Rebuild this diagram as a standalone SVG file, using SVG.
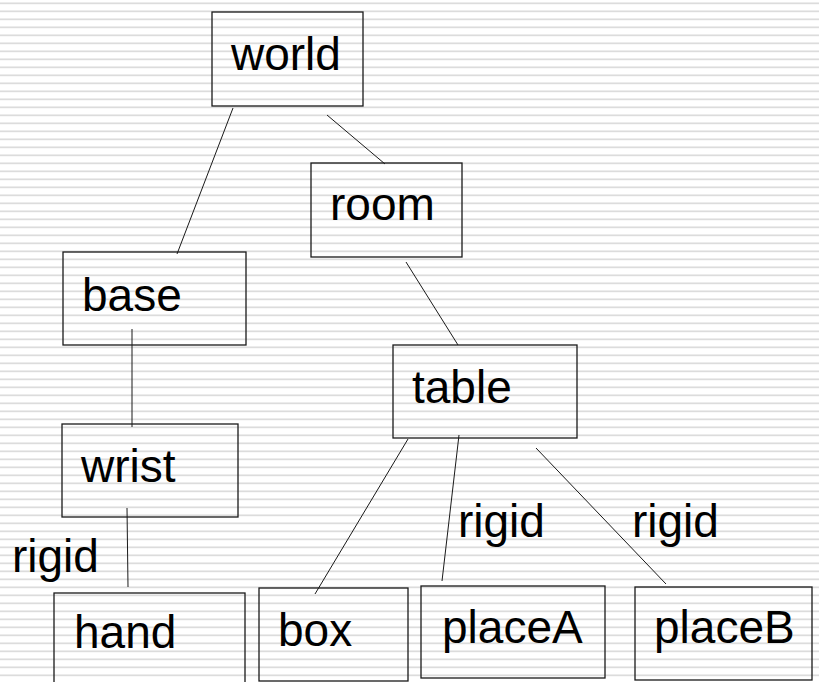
<svg xmlns="http://www.w3.org/2000/svg" width="819" height="682" viewBox="0 0 819 682">
<defs>
<pattern id="stripes" x="0" y="0" width="8" height="8" patternUnits="userSpaceOnUse">
<rect x="0" y="0" width="8" height="8" fill="#ffffff"/>
<rect x="0" y="2" width="8" height="1" fill="#ececec"/>
<rect x="0" y="3" width="8" height="1.2" fill="#dcdcdc"/>
</pattern>
<style>
.node rect { fill: none; stroke: #1a1a1a; stroke-width: 1.3; }
.label { font-family: "Liberation Sans", Arial, sans-serif; font-size: 46px; fill: #000; }
.edges line { stroke: #1a1a1a; stroke-width: 1; }
</style>
</defs>
<rect x="0" y="0" width="819" height="682" fill="url(#stripes)"/>
<g id="connectors" class="edges">
<line x1="233" y1="108" x2="177" y2="254"/>
<line x1="327" y1="115" x2="385" y2="164"/>
<line x1="406" y1="262" x2="458" y2="345"/>
<line x1="132" y1="329" x2="132" y2="427"/>
<line x1="127" y1="508" x2="128" y2="587"/>
<line x1="408" y1="439" x2="315" y2="594"/>
<line x1="459" y1="435" x2="442" y2="581"/>
<line x1="536" y1="448" x2="666" y2="584"/>
</g>
<g id="edge-labels">
<text class="label" x="12" y="572">rigid</text>
<text class="label" x="458" y="537">rigid</text>
<text class="label" x="632" y="537">rigid</text>
</g>
<g id="world" class="node"><rect x="212" y="12" width="151" height="94"/><text class="label" x="231" y="70">world</text></g>
<g id="room" class="node"><rect x="311" y="163" width="151" height="94"/><text class="label" x="330" y="220">room</text></g>
<g id="base" class="node"><rect x="63" y="252" width="183" height="93"/><text class="label" x="82" y="311">base</text></g>
<g id="table" class="node"><rect x="393" y="345" width="184" height="93"/><text class="label" x="412" y="403">table</text></g>
<g id="wrist" class="node"><rect x="62" y="424" width="176" height="93"/><text class="label" x="81" y="482">wrist</text></g>
<g id="hand" class="node"><rect x="54" y="593" width="191" height="100"/><text class="label" x="74" y="648">hand</text></g>
<g id="box" class="node"><rect x="259" y="588" width="149" height="93"/><text class="label" x="278" y="646">box</text></g>
<g id="placeA" class="node"><rect x="421" y="586" width="184" height="92"/><text class="label" x="442" y="643">placeA</text></g>
<g id="placeB" class="node"><rect x="635" y="587" width="177" height="93"/><text class="label" x="654" y="643">placeB</text></g>
</svg>
